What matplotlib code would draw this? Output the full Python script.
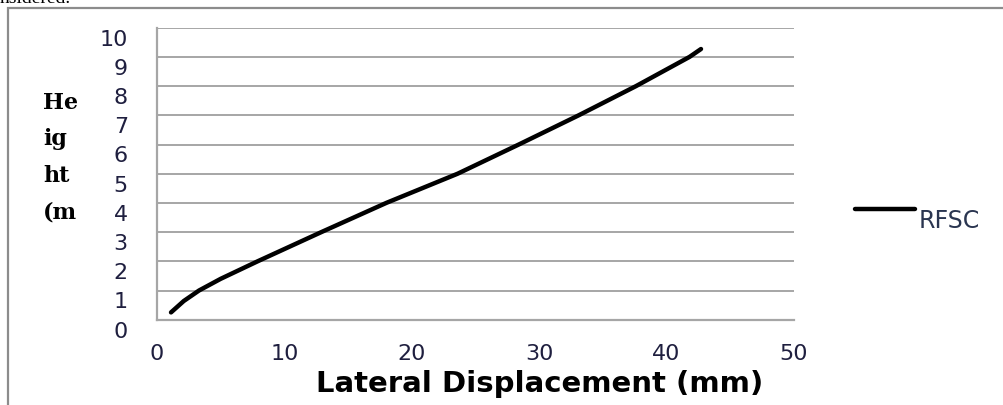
import matplotlib
matplotlib.use("Agg")
import matplotlib.pyplot as plt
import matplotlib.transforms as mtransforms
from matplotlib.patches import Rectangle

# Lateral displacement (mm) vs height (m)
disp_mm = [1.1, 2.1, 3.3, 5.0, 7.9, 12.9, 18.0, 23.6, 28.4, 33.1, 37.6, 41.8, 42.7]
height_m = [0.25, 0.64, 1.0, 1.4, 2.0, 3.0, 4.0, 5.0, 6.0, 7.0, 8.0, 9.0, 9.27]
series_name = "RFSC"
x_ticks = [0, 10, 20, 30, 40, 50]
y_ticks = list(range(0, 11))

W, H = 1004, 406
fig = plt.figure(figsize=(W / 100, H / 100), dpi=100)
fig.patch.set_facecolor("white")

# outer frame of the figure (runs off right and bottom edge)
fig.add_artist(Rectangle((8 / W, -0.2), 1.2, 1 - 9 / H + 0.2,
                         transform=fig.transFigure, fill=False,
                         edgecolor="#8c8c8c", linewidth=1.6))
# clipped caption text from the page above
fig.text(0.0, 1 - 3 / H, "nsidered.", family="Liberation Serif",
         fontsize=14, va="baseline", ha="left", color="black")

ax = fig.add_axes([157 / W, (H - 320.7) / H, (794 - 157) / W, (320.7 - 28.7) / H])
ax.plot(disp_mm, height_m, color="black", linewidth=3.2,
        solid_capstyle="round", solid_joinstyle="round", zorder=3)

ax.set_xlim(0, 50)
ax.set_ylim(0, 10)
ax.set_xticks(x_ticks)
ax.set_yticks(y_ticks)
ax.grid(axis="y", color="#a6a6a6", linewidth=1.4)
ax.set_axisbelow(True)
for side in ("top", "right"):
    ax.spines[side].set_visible(False)
for side in ("left", "bottom"):
    ax.spines[side].set_color("#a6a6a6")
    ax.spines[side].set_linewidth(1.6)

ax.tick_params(axis="both", length=0, labelsize=16, labelcolor="#1f1f3f")
ax.tick_params(axis="y", pad=21)
ax.tick_params(axis="x", pad=17)
# Excel draws the height labels a little below their gridlines
shift = mtransforms.ScaledTranslation(0, -9 / 100, fig.dpi_scale_trans)
for lab in ax.get_yticklabels():
    lab.set_transform(lab.get_transform() + shift)

ax.set_xlabel("Lateral Displacement (mm)", fontsize=21, fontweight="bold",
              labelpad=4)
ax.xaxis.label.set_position((0.60, 0))

fig.text(43 / W, 1 - 92 / H, "He\nig\nht\n(m", family="DejaVu Serif",
         fontweight="bold", fontsize=16, va="top", ha="left",
         linespacing=1.85, color="black")

# legend drawn like the original: short line + label
fig.add_artist(plt.Line2D([855 / W, 915 / W], [1 - 210 / H, 1 - 210 / H],
                          transform=fig.transFigure, color="black",
                          linewidth=3.2, solid_capstyle="round"))
fig.text(919 / W, 1 - 221 / H, series_name, fontsize=17, va="center",
         ha="left", color="#2a3550")

fig.savefig("out.png", dpi=100, facecolor="white")
